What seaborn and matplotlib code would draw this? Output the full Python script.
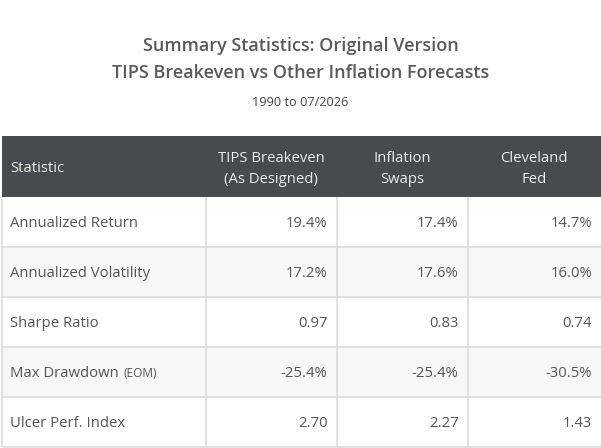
import matplotlib
matplotlib.use("Agg")
import matplotlib.pyplot as plt
from matplotlib.patches import Rectangle
import seaborn as sns

# ---- data ----
title_lines = ["Summary Statistics: Original Version", "TIPS Breakeven vs Other Inflation Forecasts"]
subtitle = "1990 to 07/2026"
header_first = "Statistic"
columns = ["TIPS Breakeven\n(As Designed)", "Inflation\nSwaps", "Cleveland\nFed"]
stats = ["Annualized Return", "Annualized Volatility", "Sharpe Ratio", "Max Drawdown", "Ulcer Perf. Index"]
stat_notes = ["", "", "", "(EOM)", ""]
tips_breakeven = [19.4, 17.2, 0.97, -25.4, 2.70]
inflation_swaps = [17.4, 17.6, 0.83, -25.4, 2.27]
cleveland_fed = [14.7, 16.0, 0.74, -30.5, 1.43]
row_formats = ["{:.1f}%", "{:.1f}%", "{:.2f}", "{:.1f}%", "{:.2f}"]

series = [tips_breakeven, inflation_swaps, cleveland_fed]

# ---- style ----
sns.set_theme(style="white")
plt.rcParams["font.family"] = ["Open Sans", "DejaVu Sans"]

W, H = 601, 448
fig = plt.figure(figsize=(W / 100, H / 100), dpi=100)
ax = fig.add_axes([0, 0, 1, 1])
ax.set_xlim(0, W)
ax.set_ylim(H, 0)
ax.axis("off")

title_color = "#5a5a5a"
text_color = "#555555"
header_bg = "#474b4f"
stripe = "#f7f7f7"
line_color = "#dcdcdc"
fs = 10.7

# titles
ax.text(W / 2, 46, title_lines[0], ha="center", va="center", fontsize=13,
        fontweight="semibold", color=title_color)
ax.text(W / 2, 73.5, title_lines[1], ha="center", va="center", fontsize=13,
        fontweight="semibold", color=title_color)
ax.text(W / 2, 102, subtitle, ha="center", va="center", fontsize=9.2, color="#444444")

# table layout
x0 = 1.5
col_widths = [204, 131, 131, 133.5]
header_top, header_h, row_h = 136, 61, 50
col_edges = [x0]
for w in col_widths:
    col_edges.append(col_edges[-1] + w)

# header
ax.add_patch(Rectangle((x0, header_top), sum(col_widths), header_h, color=header_bg, lw=0))
hy = header_top + header_h / 2 + 1.8
ax.text(col_edges[0] + 9, hy, header_first, ha="left", va="center", fontsize=fs, color="#ececec")
for j, name in enumerate(columns):
    cx = (col_edges[j + 1] + col_edges[j + 2]) / 2
    ax.text(cx, hy + 0.3, name, ha="center", va="center", fontsize=fs, color="#ececec",
            linespacing=1.53)

# body
body_top = header_top + header_h
for i, stat in enumerate(stats):
    top = body_top + i * row_h
    bg = stripe if i % 2 == 1 else "white"
    ax.add_patch(Rectangle((x0, top), sum(col_widths), row_h, color=bg, lw=0))
    cy = top + row_h / 2 + 1.6
    t = ax.text(col_edges[0] + 9, cy, stat, ha="left", va="center", fontsize=fs, color=text_color)
    if stat_notes[i]:
        ax.annotate(stat_notes[i], xy=(1, 0), xycoords=t, xytext=(3, 1.0),
                    textcoords="offset points", ha="left", va="bottom",
                    fontsize=8.6, color=text_color)
    for j, s in enumerate(series):
        ax.text(col_edges[j + 2] - 9, cy, row_formats[i].format(s[i]), ha="right", va="center",
                fontsize=fs, color=text_color)
    ax.plot([x0, col_edges[-1]], [top + row_h, top + row_h], color=line_color, lw=1.2,
            solid_capstyle="butt")

# vertical lines in body
bottom = body_top + len(stats) * row_h
for xe in col_edges[:-1]:
    ax.plot([xe, xe], [body_top, bottom], color=line_color, lw=1.2, solid_capstyle="butt")

fig.savefig("out.png", dpi=100)
